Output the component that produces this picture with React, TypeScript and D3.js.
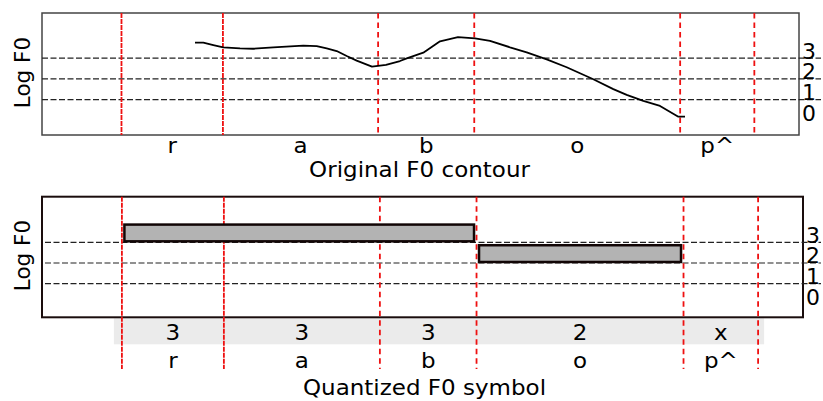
import React from "react";
import * as d3 from "d3";

// Segment boundaries (s) and the phone / quantized symbol of each segment
const boundaries = [0.105, 0.239, 0.444, 0.571, 0.843, 0.941];
const phones = ["r", "a", "b", "o", "p^"];
const symbols = ["3", "3", "3", "2", "x"];

// Quantization thresholds and level labels (log F0 units)
const thresholds = [1, 2, 3];
const levelLabels = ["0", "1", "2", "3"];

// Original log F0 contour
const f0Time = [
  0.2021, 0.2131, 0.2263, 0.2395, 0.2616, 0.2791, 0.3056, 0.3452, 0.3629, 0.3761,
  0.3893, 0.4025, 0.4157, 0.4359, 0.4544, 0.4729, 0.4818, 0.5037, 0.5258, 0.5495,
  0.572, 0.5918, 0.6182, 0.6403, 0.6667, 0.6931, 0.7283, 0.7547, 0.7724, 0.7943,
  0.8164, 0.8406, 0.8494,
];
const f0Value = [
  3.74, 3.74, 3.63, 3.52, 3.47, 3.45, 3.52, 3.6, 3.58, 3.47,
  3.34, 3.1, 2.88, 2.59, 2.67, 2.86, 2.99, 3.26, 3.81, 4.01,
  3.95, 3.83, 3.52, 3.28, 2.94, 2.56, 1.98, 1.51, 1.23, 0.94,
  0.7, 0.18, 0.18,
];

const W = 823;
const H = 401;
const FONT = "DejaVu Sans, Bitstream Vera Sans, sans-serif";
const FS = 21.5;
const SX = 1.07;

type Panel = {
  left: number;
  right: number;
  top: number;
  bottom: number;
  yDomain: [number, number];
};

const topPanel: Panel = { left: 42, right: 799, top: 13, bottom: 135, yDomain: [-0.7, 5.17] };
const botPanel: Panel = { left: 42, right: 803, top: 196.7, bottom: 317.3, yDomain: [-0.63, 5.21] };

function HText({ x, y, children, anchor = "middle", size = FS }: any) {
  return (
    <text
      transform={`translate(${x},${y}) scale(${SX},1)`}
      textAnchor={anchor}
      fontFamily={FONT}
      fontSize={size}
      fill="#000"
    >
      {children}
    </text>
  );
}

function Frame({
  p,
  x,
  y,
  stroke,
  strokeWidth,
  dashStart,
  redBottom,
}: {
  p: Panel;
  x: d3.ScaleLinear<number, number>;
  y: d3.ScaleLinear<number, number>;
  stroke: string;
  strokeWidth: number;
  dashStart: number;
  redBottom: number;
}) {
  return (
    <g>
      <rect
        x={p.left}
        y={p.top}
        width={p.right - p.left}
        height={p.bottom - p.top}
        fill="none"
        stroke={stroke}
        strokeWidth={strokeWidth}
      />
      {thresholds.map((t) => (
        <line
          key={t}
          x1={dashStart}
          x2={W - 2}
          y1={y(t)}
          y2={y(t)}
          stroke="#222"
          strokeWidth={1.2}
          strokeDasharray="6,2.5"
        />
      ))}
      {levelLabels.map((lab, i) => (
        <HText key={lab} x={p.right + 3} y={y(i) + 0.5} anchor="start" size={20.5}>
          {lab}
        </HText>
      ))}
      <text
        transform={`translate(${29.5},${(p.top + p.bottom) / 2 - 1.5}) rotate(-90)`}
        textAnchor="middle"
        fontFamily={FONT}
        fontSize={FS}
        fill="#000"
      >
        Log F0
      </text>
      {boundaries.map((b, i) => (
        <line
          key={b}
          x1={x(b)}
          x2={x(b)}
          y1={p.top}
          y2={redBottom}
          stroke="#ee1111"
          strokeWidth={1.8}
          strokeDasharray={i < 2 ? "5,1" : "5.5,4"}
        />
      ))}
    </g>
  );
}

export default function App() {
  const xTop = d3.scaleLinear().domain([0, 1]).range([topPanel.left, topPanel.right]);
  const yTop = d3.scaleLinear().domain(topPanel.yDomain).range([topPanel.bottom, topPanel.top]);
  const xBot = d3.scaleLinear().domain([0, 1]).range([botPanel.left, botPanel.right]);
  const yBot = d3.scaleLinear().domain(botPanel.yDomain).range([botPanel.bottom, botPanel.top]);

  const contour = d3
    .line<number>()
    .x((_, i) => xTop(f0Time[i]))
    .y((v) => yTop(v))(f0Value);

  // Merge consecutive segments with the same numeric level into one bar
  const runs: { start: number; end: number; level: number }[] = [];
  symbols.forEach((s, i) => {
    const lv = Number(s);
    if (Number.isNaN(lv)) return;
    const last = runs[runs.length - 1];
    if (last && last.level === lv && last.end === boundaries[i]) {
      last.end = boundaries[i + 1];
    } else {
      runs.push({ start: boundaries[i], end: boundaries[i + 1], level: lv });
    }
  });
  const barHeight = 0.86;

  const mids = phones.map((_, i) => (boundaries[i] + boundaries[i + 1]) / 2);

  return (
    <div style={{ position: "absolute", left: 0, top: 0, width: W, height: H, background: "#fff" }}>
      <svg width={W} height={H} style={{ display: "block" }}>
        <rect width={W} height={H} fill="#fff" />

        {/* Upper panel: original contour */}
        <Frame
          p={topPanel}
          x={xTop}
          y={yTop}
          stroke="#444"
          strokeWidth={1.5}
          dashStart={topPanel.left}
          redBottom={topPanel.bottom}
        />
        <path d={contour ?? ""} fill="none" stroke="#000" strokeWidth={1.8} strokeLinejoin="round" />
        {phones.map((ph, i) => (
          <HText key={ph} x={xTop(mids[i])} y={topPanel.bottom + 18}>
            {ph}
          </HText>
        ))}
        <HText x={(topPanel.left + topPanel.right) / 2 - 1} y={177}>
          Original F0 contour
        </HText>

        {/* Lower panel: quantized symbols */}
        <rect
          x={xBot(boundaries[0]) - 8}
          y={botPanel.bottom + 1}
          width={xBot(boundaries[boundaries.length - 1]) - xBot(boundaries[0]) + 14}
          height={26}
          fill="#ebebeb"
        />
        <Frame
          p={botPanel}
          x={xBot}
          y={yBot}
          stroke="#1a0d0d"
          strokeWidth={2}
          dashStart={botPanel.left + 3}
          redBottom={369}
        />
        {runs.map((r, i) => (
          <rect
            key={i}
            x={xBot(r.start) + 2.5}
            y={yBot(r.level + barHeight)}
            width={xBot(r.end) - xBot(r.start) - 5}
            height={yBot(r.level) - yBot(r.level + barHeight) - 1}
            fill="#b3b3b3"
            stroke="#110505"
            strokeWidth={2.5}
          />
        ))}
        {symbols.map((s, i) => (
          <HText key={"s" + i} x={xBot(mids[i])} y={botPanel.bottom + 23}>
            {s}
          </HText>
        ))}
        {phones.map((ph, i) => (
          <HText key={"p" + i} x={xBot(mids[i])} y={botPanel.bottom + 51}>
            {ph}
          </HText>
        ))}
        <HText x={(botPanel.left + botPanel.right) / 2 + 2} y={395}>
          Quantized F0 symbol
        </HText>
      </svg>
    </div>
  );
}
